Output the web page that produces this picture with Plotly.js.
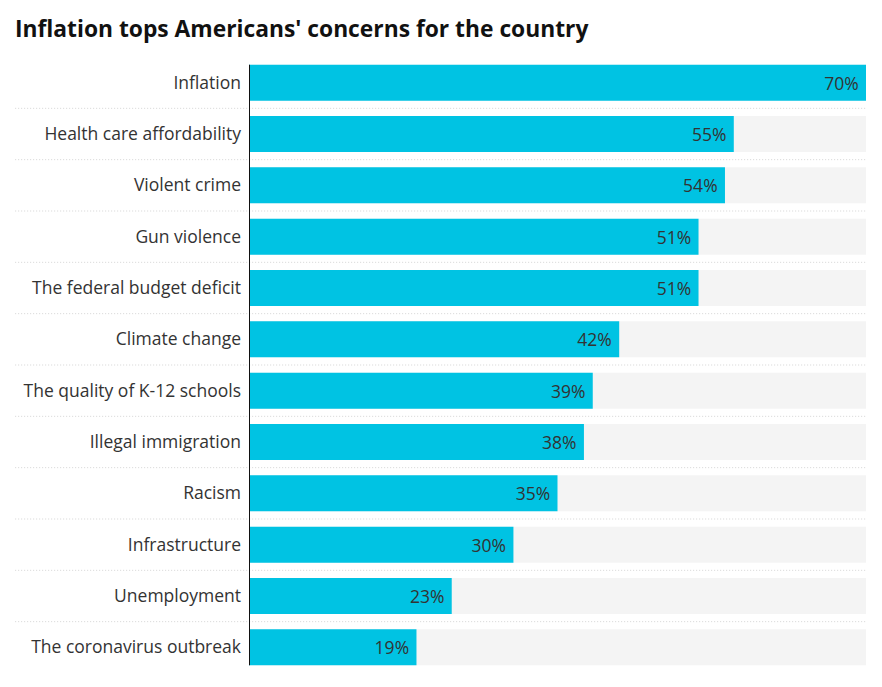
<!DOCTYPE html>
<html><head><meta charset="utf-8">
<script src="https://cdn.plot.ly/plotly-3.0.1.min.js"></script>
<style>html,body{margin:0;padding:0;background:#fff;}#chart{width:882px;height:687px;}</style>
</head><body><div id="chart"></div>
<script>
var categories = ["Inflation","Health care affordability","Violent crime","Gun violence","The federal budget deficit","Climate change","The quality of K-12 schools","Illegal immigration","Racism","Infrastructure","Unemployment","The coronavirus outbreak"];
var values = [70,55,54,51,51,42,39,38,35,30,23,19];
var maxValue = 70;
var labels = values.map(function(v){return v+"%\u2005";});

var fontFam = "'Open Sans', Lato, sans-serif";
var bg = {type:"bar", orientation:"h", y:categories, x:categories.map(function(){return maxValue;}),
  marker:{color:"#f4f4f4"}, hoverinfo:"skip", showlegend:false};
var fg = {type:"bar", orientation:"h", y:categories, x:values, text:labels,
  textposition:"inside", insidetextanchor:"end", textangle:0,
  textfont:{family:fontFam, size:17.5, color:"#333"},
  marker:{color:"#00c3e3"}, showlegend:false, cliponaxis:false};

var shapes = [];
for (var i=0;i<categories.length-1;i++){
  shapes.push({type:"line", xref:"paper", yref:"y", x0:-0.379, x1:1, y0:i+0.5, y1:i+0.5,
    line:{color:"#d4d4d4", width:1, dash:"1px,2px"}, layer:"below"});
}
shapes.push({type:"line", xref:"x", yref:"y", x0:0, x1:0, y0:-0.35, y1:categories.length-0.65,
  line:{color:"#111", width:2}});

var layout = {
  width:882, height:687,
  margin:{l:249, r:16, t:57, b:14},
  paper_bgcolor:"#fff", plot_bgcolor:"#fff",
  barmode:"overlay", bargap:0.3,
  title:{text:"<b>Inflation tops Americans' concerns for the country</b>", x:0.017, xanchor:"left", y:0.958, yanchor:"middle",
    font:{family:fontFam, size:22.8, color:"#111"}},
  xaxis:{range:[0,maxValue], showgrid:false, zeroline:false, showticklabels:false, fixedrange:true},
  yaxis:{type:"category", autorange:"reversed", showgrid:false, zeroline:false, ticks:"", ticklabelstandoff:7,
    tickfont:{family:fontFam, size:17.5, color:"#333"}, fixedrange:true},
  shapes:shapes,
  hovermode:false
};
Plotly.newPlot("chart",[bg,fg],layout,{displayModeBar:false, staticPlot:true});
</script></body></html>
